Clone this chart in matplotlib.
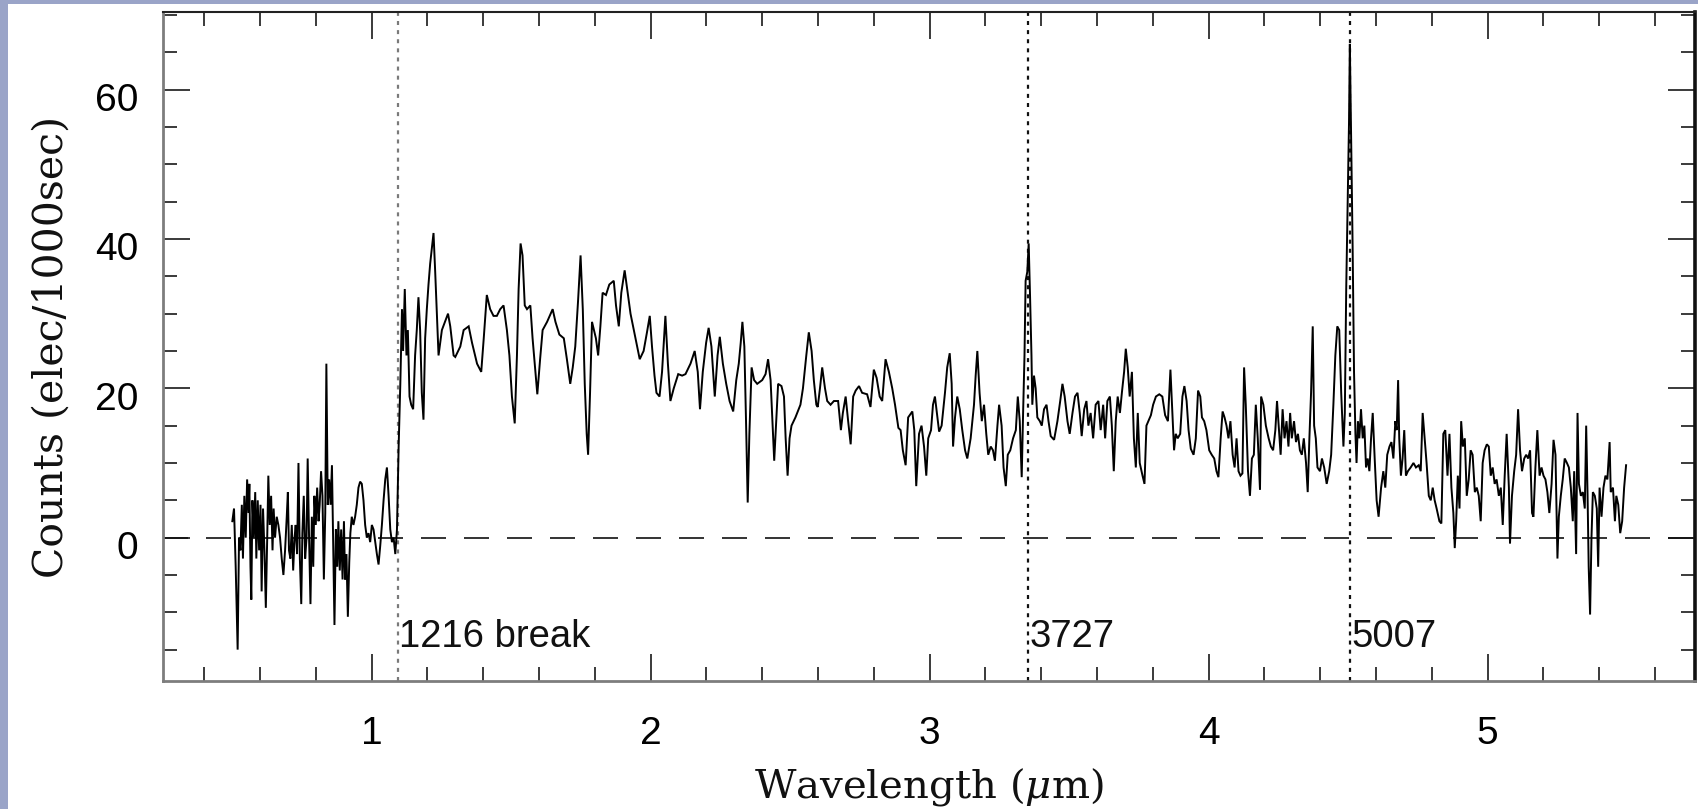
import matplotlib
matplotlib.use("Agg")
import matplotlib.pyplot as plt
from matplotlib.patches import Rectangle
from matplotlib.ticker import MultipleLocator, FixedLocator
from matplotlib.transforms import ScaledTranslation

plt.rcParams['font.family'] = ['Liberation Sans', 'DejaVu Sans']
plt.rcParams['mathtext.fontset'] = 'dejavuserif'

# ---------------- data (wavelength in micron, counts per 1000 s) ----------------
seg_blue = [(0.501,2.2),(0.507,3.9),(0.513,-3.9),(0.520,-15.0),(0.525,0.0),(0.530,-1.7),(0.535,4.4),
 (0.539,-2.8),(0.544,5.6),(0.549,0.0),(0.554,7.8),(0.559,3.3),(0.562,7.2),(0.566,-3.9),(0.569,-8.3),
 (0.573,5.0),(0.578,0.0),(0.583,6.1),(0.587,-2.8),(0.592,5.0),(0.597,-1.7),(0.602,4.4),(0.606,-7.2),
 (0.611,3.9),(0.616,-1.7),(0.621,-9.4),(0.626,0.0),(0.630,8.3),(0.635,1.7),(0.640,5.6),(0.645,-1.7),
 (0.649,3.9),(0.654,0.0),(0.660,2.8),(0.666,1.7),(0.672,0.0),(0.678,-2.8),(0.684,-5.0),(0.690,-1.7),
 (0.696,2.8),(0.700,6.1),(0.704,-1.7),(0.709,-2.8),(0.714,1.7),(0.719,-4.4),(0.724,0.0),(0.728,1.7),
 (0.733,-2.2),(0.738,10.0),(0.743,-2.8),(0.748,-8.9),(0.752,0.6),(0.757,5.6),(0.762,-2.8),(0.767,0.0),
 (0.771,10.6),(0.776,0.0),(0.781,-8.9),(0.786,2.8),(0.791,-3.9),(0.795,5.6),(0.800,1.7),(0.805,6.7),
 (0.810,2.2),(0.814,4.4),(0.819,8.9),(0.824,5.6),(0.829,-5.6),(0.834,3.3),(0.838,23.3),(0.843,4.4),
 (0.848,7.8),(0.853,4.4),(0.858,9.7),(0.862,0.0),(0.867,-11.7),(0.872,1.1),(0.877,-3.9),(0.881,2.2),
 (0.886,-4.4),(0.891,1.1),(0.896,-5.6),(0.901,2.2),(0.905,-5.6),(0.910,-2.2),(0.915,-10.6),(0.920,-3.3),
 (0.924,0.6),(0.929,2.8),(0.935,1.7),(0.941,2.8),(0.947,4.4),(0.953,6.7),(0.959,7.5),(0.965,7.2),
 (0.971,5.0),(0.977,1.7),(0.983,0.0),(0.989,0.6),(0.995,-0.6),(1.001,1.7),(1.007,1.1),(1.013,-0.6),
 (1.019,-2.2),(1.025,-3.6),(1.031,-1.1),(1.037,1.7),(1.043,5.0),(1.049,7.8),(1.055,9.4),(1.061,5.6),
 (1.067,1.1),(1.073,-0.6),(1.079,0.0),(1.085,-2.2),(1.091,1.1)]

seg_break = [(1.097,12.2),(1.103,20.6),(1.109,30.6),(1.113,25.0),(1.119,33.3),(1.125,24.4),(1.130,27.8),
 (1.136,18.9),(1.142,17.8),(1.149,17.2),(1.156,24.4),(1.162,27.8),(1.168,32.2),(1.174,27.8),(1.180,19.4),
 (1.186,15.8),(1.192,26.7),(1.198,30.6),(1.204,33.9),(1.210,36.7),(1.222,40.8),(1.228,35.6),(1.234,30.0),
 (1.240,24.4),(1.252,27.8),(1.274,30.0),(1.282,28.3),(1.294,24.4),
 (1.300,24.2),(1.318,25.6),(1.330,27.8),(1.348,28.3),(1.360,26.1),(1.378,23.3),(1.393,22.2),(1.402,26.7),
 (1.413,32.5),(1.425,30.6),(1.437,29.7),(1.449,29.7),(1.461,30.6),(1.473,31.1),(1.485,27.8),(1.494,24.4),
 (1.503,18.9),(1.513,15.3),(1.521,24.4),(1.527,33.3),(1.534,39.4),(1.541,37.8),(1.549,31.1),(1.557,30.6),
 (1.569,31.1),(1.577,26.7),(1.587,22.2),(1.594,19.2),(1.604,23.9),(1.613,27.8),(1.629,28.9),(1.649,30.6),
 (1.659,28.9),(1.673,27.2),(1.689,26.7),(1.700,23.9),(1.712,20.6),(1.721,22.8),(1.730,25.6),(1.740,31.7),
 (1.749,37.8),(1.757,30.6),(1.764,20.6),(1.771,13.9),(1.776,11.1),(1.783,19.4),(1.790,28.9),(1.797,27.8),
 (1.804,26.7),(1.812,24.4),(1.820,28.3),(1.828,32.8),(1.840,32.5),(1.852,33.9),(1.868,34.4),(1.876,31.1),
 (1.886,28.3),(1.895,32.8),(1.907,35.8),(1.916,33.3),(1.928,30.0),(1.940,27.8),(1.952,25.6),(1.961,23.9),
 (1.975,25.0),(1.987,27.5),(1.997,29.7),(2.005,25.6),(2.014,21.7),(2.021,19.4),(2.032,18.9),(2.041,22.2),
 (2.053,29.7),(2.062,23.3),(2.071,18.3),(2.083,20.0),(2.099,21.9),(2.113,21.7)]

seg_mid = [(2.125,21.9),(2.143,23.3),(2.158,25.0),(2.169,22.2),(2.177,17.2),(2.187,22.2),(2.199,26.1),
 (2.208,28.1),(2.218,25.6),(2.230,18.9),(2.240,24.4),(2.248,26.9),(2.259,23.3),(2.271,20.6),(2.283,18.3),
 (2.296,16.9),(2.307,21.1),(2.316,23.3),(2.323,26.1),(2.329,28.9),(2.336,25.6),(2.342,15.6),(2.348,4.7),
 (2.354,13.9),(2.362,22.8),(2.371,21.1),(2.382,20.6),(2.400,21.1),(2.412,21.9),(2.421,23.9),(2.430,21.1),
 (2.436,16.1),(2.443,10.3),(2.450,15.6),(2.457,20.6),(2.469,20.3),(2.478,18.9),(2.484,13.3),(2.491,8.3),
 (2.498,13.3),(2.505,15.0),(2.519,16.1),(2.537,17.8),(2.546,20.0),(2.558,24.4),(2.567,27.5),(2.577,25.0),
 (2.585,21.1),(2.594,17.8),(2.599,17.5),(2.607,20.0),(2.615,22.8),(2.625,20.0),(2.633,18.3),(2.645,17.8),
 (2.657,18.3),(2.672,18.3),(2.682,14.4),(2.689,16.7),(2.699,18.9),(2.708,15.6),(2.717,12.5),(2.726,18.9),
 (2.735,19.7),(2.747,20.3),(2.758,19.4),(2.776,19.2),(2.788,17.5),(2.800,22.5),(2.810,21.4),(2.821,18.9),
 (2.830,18.3),(2.842,23.9),(2.854,22.2),(2.866,20.0),(2.876,17.8),(2.888,14.7),(2.896,14.4),(2.904,11.7),
 (2.914,9.7),(2.923,16.1),(2.938,16.9),(2.945,14.4),(2.952,6.9)]

seg_oii = [(2.962,13.9),(2.971,15.0),(2.980,12.2),(2.988,8.3),(2.995,13.3),(3.005,14.4),(3.012,17.8),
 (3.019,18.9),(3.026,16.7),(3.034,14.2),(3.043,15.0),(3.055,19.4),(3.063,22.8),(3.072,24.7),(3.079,20.6),
 (3.084,12.2),(3.091,16.1),(3.099,18.9),(3.108,17.2),(3.117,14.4),(3.127,11.7),(3.135,10.6),(3.147,13.3),
 (3.159,17.8),(3.165,21.7),(3.171,25.0),(3.179,19.4),(3.187,15.6),(3.195,17.8),(3.203,13.9),(3.210,11.1),
 (3.219,12.2),(3.227,11.7),(3.234,10.3),(3.243,15.0),(3.249,17.8),(3.258,15.0),(3.265,9.4),(3.273,6.9),
 (3.280,11.1),(3.289,11.7),(3.299,13.3),(3.309,14.4),(3.316,18.9),(3.323,15.6),(3.330,8.1),(3.335,16.7),
 (3.340,24.4),(3.344,34.4),(3.350,35.6),(3.355,39.4),(3.360,32.2),(3.365,24.4),(3.368,17.8),(3.374,21.7),
 (3.380,20.0),(3.386,16.1),(3.395,15.6),(3.402,15.0),(3.410,17.2),(3.419,17.8),(3.426,15.6),(3.434,13.6),
 (3.446,13.1),(3.458,15.6),(3.468,18.3),(3.476,20.6),(3.484,18.9),(3.494,15.6),(3.502,13.9),(3.512,16.7),
 (3.521,18.9),(3.530,19.4),(3.538,16.7),(3.545,13.6),(3.554,17.2),(3.562,18.3),(3.569,15.0),(3.577,16.7),
 (3.586,13.3),(3.595,17.8),(3.605,18.3),(3.613,14.4),(3.622,17.8),(3.629,13.3),(3.637,18.3),(3.646,18.9),
 (3.653,15.0),(3.660,8.9),(3.667,15.6),(3.674,18.9),(3.682,16.7),(3.689,19.4),(3.697,22.2),(3.703,25.3),
 (3.710,22.8),(3.717,18.9),(3.725,22.2),(3.732,13.3),(3.739,9.4),(3.746,16.7),(3.753,10.0),(3.763,8.3),
 (3.770,7.2),(3.777,15.0)]

seg_oiii = [(3.793,16.4),(3.801,17.8),(3.811,18.9),(3.823,19.2),(3.834,18.9),(3.844,16.4),(3.854,15.6),
 (3.863,22.5),(3.870,16.7),(3.876,11.7),(3.882,13.9),(3.889,13.3),(3.898,13.9),(3.906,18.9),(3.913,20.3),
 (3.921,18.3),(3.928,14.4),(3.936,11.9),(3.946,11.1),(3.954,13.3),(3.962,19.7),(3.970,18.9),(3.976,16.1),
 (3.984,15.6),(3.992,14.4),(4.002,11.7),(4.011,11.1),(4.020,10.6),(4.028,8.9),(4.035,8.1),(4.043,13.3),
 (4.050,16.9),(4.057,16.1),(4.064,15.0),(4.071,13.3),(4.078,15.6),(4.086,11.1),(4.093,9.4),(4.100,13.3),
 (4.107,8.9),(4.114,8.3),(4.121,8.6),(4.127,22.8),(4.133,17.8),(4.141,8.9),(4.148,5.6),(4.155,10.6),
 (4.162,11.1),(4.169,17.8),(4.176,13.3),(4.184,6.4),(4.188,18.9),(4.196,17.8),(4.205,15.0),(4.215,13.3),
 (4.223,12.2),(4.231,11.7),(4.239,14.4),(4.245,18.3),(4.251,15.0),(4.258,11.1),(4.265,17.2),(4.272,13.3),
 (4.279,15.6),(4.286,12.2),(4.292,16.7),(4.298,13.3),(4.306,15.6),(4.313,12.8),(4.320,13.9),(4.327,11.7),
 (4.334,11.1),(4.341,13.3),(4.349,10.0),(4.355,6.1),(4.361,13.3),(4.367,19.4),(4.373,28.3),(4.378,15.0),
 (4.384,13.3),(4.390,9.4),(4.399,8.9),(4.406,10.6),(4.414,9.4),(4.423,7.2),(4.432,8.9),(4.439,11.1),
 (4.447,17.8),(4.454,24.4),(4.461,28.3),(4.468,27.8),(4.475,19.4),(4.483,12.2),(4.488,16.7),(4.493,33.3),
 (4.498,44.4),(4.503,55.6),(4.506,66.1),(4.511,52.8),(4.516,38.9),(4.521,22.2),(4.526,13.9),(4.530,10.0),
 (4.535,15.6),(4.540,13.3),(4.546,17.2),(4.552,13.3),(4.558,15.0),(4.564,9.4),(4.570,10.6),(4.576,8.9),
 (4.582,13.3),(4.588,16.7),(4.595,10.6),(4.602,5.0),(4.609,2.8)]

seg_red = [(4.618,6.7),(4.626,8.9),(4.633,6.7),(4.640,11.1),(4.648,12.2),(4.655,12.8),(4.662,10.6),
 (4.669,15.6),(4.674,14.4),(4.679,21.1),(4.683,13.3),(4.689,8.3),(4.695,10.6),(4.701,14.4),(4.707,8.3),
 (4.714,8.9),(4.724,9.4),(4.734,10.0),(4.743,9.4),(4.753,9.7),(4.760,8.9),(4.767,16.7),(4.774,13.3),
 (4.781,10.0),(4.789,5.6),(4.796,5.0),(4.803,6.7),(4.810,5.0),(4.817,3.9),(4.827,2.2),(4.834,1.9),
 (4.841,13.9),(4.848,14.4),(4.856,8.3),(4.863,13.9),(4.870,6.7),(4.877,3.3),(4.882,-1.4),(4.887,2.2),
 (4.893,8.3),(4.899,3.9),(4.905,15.6),(4.911,12.2),(4.918,13.3),(4.925,5.6),(4.932,7.8),(4.939,11.7),
 (4.946,11.1),(4.954,6.1),(4.961,6.7),(4.968,5.6),(4.975,2.2),(4.982,10.0),(4.989,11.7),(4.997,12.5),
 (5.004,12.2),(5.011,8.3),(5.018,9.4),(5.025,7.2),(5.032,7.8),(5.040,5.6),(5.047,6.7),(5.054,1.7),
 (5.061,8.3),(5.068,13.9),(5.076,6.7),(5.080,-0.8),(5.087,5.6),(5.095,8.9),(5.102,11.1),(5.109,17.2),
 (5.116,11.7),(5.123,8.9),(5.131,10.6),(5.138,11.1),(5.145,10.6),(5.152,11.7),(5.159,3.3),(5.164,2.8),
 (5.171,9.4),(5.178,14.4),(5.186,8.3),(5.193,9.4),(5.200,8.3),(5.207,7.8),(5.214,6.1),(5.221,3.3),
 (5.229,7.2),(5.236,13.1),(5.243,11.1),(5.250,-2.8),(5.255,2.8),(5.262,5.6),(5.269,7.8),(5.276,10.6),
 (5.284,10.0),(5.291,9.4),(5.298,6.7),(5.305,2.2),(5.310,8.9),(5.317,-2.2),(5.322,16.7),(5.327,7.2),
 (5.334,5.6),(5.341,6.1),(5.348,3.9),(5.353,15.0),(5.358,5.6),(5.362,-3.9),(5.367,-10.3),(5.372,0.0),
 (5.377,6.1),(5.384,5.6),(5.391,3.9),(5.396,-3.9),(5.401,6.7),(5.408,2.8),(5.415,6.7),(5.422,8.3),
 (5.429,7.8),(5.437,12.8),(5.441,6.1),(5.449,6.7),(5.456,2.2),(5.461,5.6),(5.468,4.4),(5.475,0.6),
 (5.482,2.2),(5.489,6.7),(5.496,9.7)]

line_waves = [1.0944, 3.3543, 4.5063]
line_labels = ["1216 break", "3727", "5007"]
line_colors = ["#7a7a7a", "#111111", "#111111"]
xticks_major = [1, 2, 3, 4, 5]
yticks_major = [0, 20, 40, 60]

# ---------------- figure ----------------
W, H = 1699, 809
fig = plt.figure(figsize=(W / 100, H / 100), dpi=100)
fig.patch.set_facecolor('white')
bg = '#9aa4c8'
fig.patches.append(Rectangle((0, 0), 8 / W, 1, transform=fig.transFigure,
                             facecolor=bg, edgecolor='none', zorder=0))
fig.patches.append(Rectangle((0, 1 - 4 / H), 1, 4 / H, transform=fig.transFigure,
                             facecolor=bg, edgecolor='none', zorder=0))

ax = fig.add_axes([163 / W, 1 - 681 / H, (1695 - 163) / W, (681 - 12) / H])
ax.set_facecolor('white')

spec = seg_blue + seg_break + seg_mid + seg_oii + seg_oiii + seg_red
wl = [p[0] for p in spec]
cnt = [p[1] for p in spec]
ax.plot(wl, cnt, color='#000000', lw=1.4, solid_joinstyle='miter', zorder=3)

ax.axhline(0, color='#111111', lw=1.2, linestyle=(0, (15, 10.8)), zorder=2)
for w, lab, col in zip(line_waves, line_labels, line_colors):
    ax.axvline(w, color=col, lw=1.6, linestyle=(0, (1.8, 2.3)), zorder=2)
    ax.text(w + 0.004, -14.7, lab, fontsize=27.5, family='Liberation Sans',
            ha='left', va='baseline', color='#111111', zorder=4)

ax.set_xlim(0.2525, 5.743)
ax.set_ylim(-19.2, 70.4)

ax.xaxis.set_major_locator(FixedLocator(xticks_major))
ax.xaxis.set_minor_locator(MultipleLocator(0.2))
ax.yaxis.set_major_locator(FixedLocator(yticks_major))
ax.yaxis.set_minor_locator(MultipleLocator(5))

ax.tick_params(which='both', direction='in', top=True, right=True,
               color='#3a3a3a', width=1.4)
ax.tick_params(which='major', length=19.4)
ax.tick_params(which='minor', length=10)
ax.tick_params(axis='x', which='major', pad=25, labelsize=28)
ax.tick_params(axis='y', which='major', pad=18, labelsize=28)

for sp, col, lw in [('left', '#7d7d7d', 2.0), ('bottom', '#7d7d7d', 2.0),
                    ('top', '#222222', 1.5), ('right', '#111111', 2.6)]:
    ax.spines[sp].set_color(col)
    ax.spines[sp].set_linewidth(lw)

# y tick labels sit a little below their ticks in the original
offset = ScaledTranslation(0, -7.5 / 100, fig.dpi_scale_trans)
for t in ax.yaxis.get_major_ticks():
    t.label1.set_transform(t.label1.get_transform() + offset)

fig.text(51.6 / W, 1 - 346.5 / H, "Counts (elec/1000sec)", rotation=90,
         ha='center', va='center', fontsize=29.5, family='DejaVu Serif', color='#111111')
fig.text(929 / W, 1 - 798 / H, r"Wavelength ($\mu$m)", ha='center', va='baseline',
         fontsize=29, family='DejaVu Serif', color='#111111')

fig.savefig('out.png', dpi=100, facecolor=fig.get_facecolor())
